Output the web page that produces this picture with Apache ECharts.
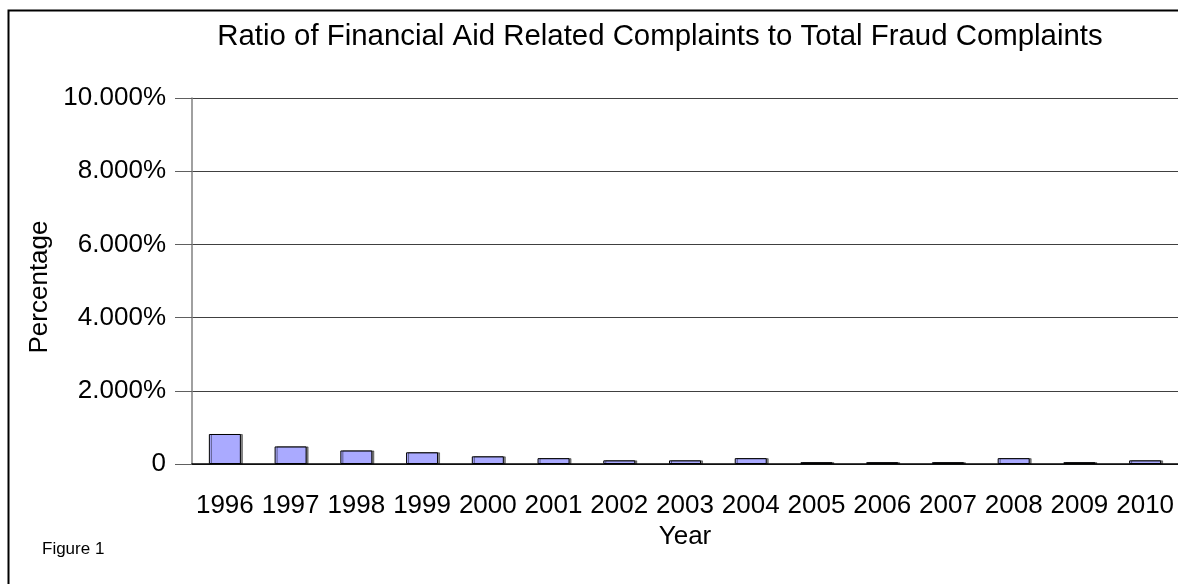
<!DOCTYPE html>
<html>
<head>
<meta charset="utf-8">
<script src="https://cdn.jsdelivr.net/npm/echarts@6/dist/echarts.min.js"></script>
<style>
  html, body { margin: 0; padding: 0; background: #fff; }
  #chart { width: 1178px; height: 584px; }
</style>
</head>
<body>
<div id="chart"></div>
<script>
const years = ['1996','1997','1998','1999','2000','2001','2002','2003','2004','2005','2006','2007','2008','2009','2010'];
const ratioPercent = [0.82, 0.48, 0.37, 0.32, 0.21, 0.16, 0.10, 0.10, 0.16, 0.05, 0.05, 0.05, 0.16, 0.05, 0.10];
const yTicks = [0, 2, 4, 6, 8, 10];

const FONT = "'Liberation Sans', Arial, sans-serif";
const chart = echarts.init(document.getElementById('chart'));
chart.setOption({
  animation: false,
  backgroundColor: '#ffffff',
  title: {
    text: 'Ratio of Financial Aid Related Complaints to Total Fraud Complaints',
    left: 655, top: 17, textAlign: 'center',
    textStyle: { fontFamily: FONT, fontSize: 29.4, fontWeight: 'normal', color: '#000' }
  },
  grid: { left: 192, top: 98, width: 993, height: 366, containLabel: false },
  xAxis: [{
    type: 'category', data: years,
    name: 'Year', nameLocation: 'middle', nameGap: 60,
    nameTextStyle: { fontFamily: FONT, fontSize: 26, color: '#000' },
    axisLine: { lineStyle: { color: '#000', width: 1.5 } },
    axisTick: { alignWithLabel: true, length: 16, lineStyle: { color: '#808080', width: 1.5 } },
    axisLabel: { interval: 0, margin: 29, fontFamily: FONT, fontSize: 26, color: '#000' }
  }, {
    type: 'category', data: years, position: 'bottom', gridIndex: 0,
    axisLine: { show: false },
    axisTick: { alignWithLabel: false, length: 3, lineStyle: { color: '#000', width: 2 } },
    axisLabel: { show: false }
  }],
  yAxis: {
    type: 'value', min: yTicks[0], max: yTicks[yTicks.length - 1], interval: 2,
    axisLine: { show: true, lineStyle: { color: '#808080', width: 1.5 } },
    axisTick: { show: true, length: 17, lineStyle: { color: '#606060', width: 1 } },
    axisLabel: {
      margin: 26, fontFamily: FONT, fontSize: 26, color: '#000',
      formatter: v => v === 0 ? '0' : v.toFixed(3) + '%'
    },
    splitLine: { lineStyle: { color: '#404040', width: 1 } }
  },
  series: [{
    type: 'bar', xAxisIndex: 0, data: ratioPercent, barWidth: 32,
    itemStyle: {
      color: '#aaaaff', borderColor: '#000', borderWidth: 1,
      shadowColor: 'rgba(0,0,0,0.45)', shadowOffsetX: 2, shadowOffsetY: 0, shadowBlur: 0
    }
  }],
  graphic: [
    { type: 'rect', shape: { x: 8.5, y: 10.5, width: 1300, height: 700 },
      style: { fill: 'none', stroke: '#000', lineWidth: 2 }, silent: true, z: 100 },
    { type: 'text', x: 40, y: 287, rotation: Math.PI / 2,
      style: { text: 'Percentage', fontFamily: FONT, fontSize: 26, fill: '#000',
               align: 'center', verticalAlign: 'middle' } },
    { type: 'text', left: 42, top: 541,
      style: { text: 'Figure 1', fontFamily: FONT, fontSize: 17, fill: '#000' } }
  ]
});
</script>
</body>
</html>
